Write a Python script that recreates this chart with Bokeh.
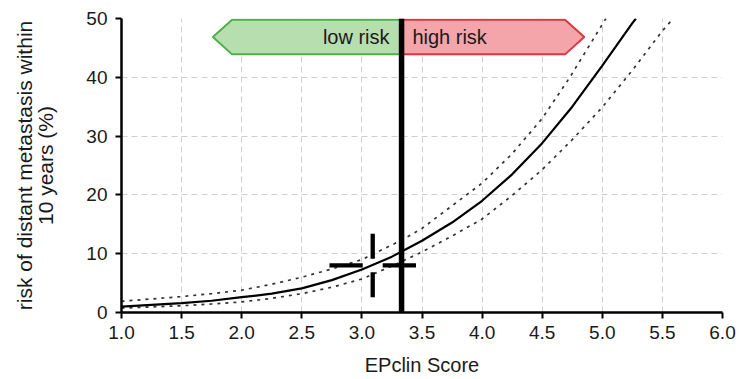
from bokeh.plotting import figure
from bokeh.models import Range1d, FixedTicker
from bokeh.core.properties import value
from bokeh.embed import file_html
from bokeh.resources import INLINE

# ---- data ----
score_mid = [1.0, 1.25, 1.5, 1.75, 2.0, 2.25, 2.5, 2.75, 3.0, 3.25, 3.5, 3.75,
             4.0, 4.25, 4.5, 4.75, 5.0, 5.25, 5.28]
risk_mid = [1.0, 1.3, 1.6, 2.0, 2.6, 3.2, 4.1, 5.5, 7.3, 9.5, 12.2, 15.3,
            19.0, 23.5, 28.8, 35.0, 42.0, 49.2, 50.0]

score_upper = [1.0, 1.25, 1.5, 1.75, 2.0, 2.25, 2.5, 2.75, 3.0, 3.33, 3.5,
               4.0, 4.25, 4.5, 4.73, 5.0, 5.03]
risk_upper = [1.9, 2.3, 2.7, 3.2, 3.8, 4.8, 6.0, 7.4, 9.0, 12.3, 14.3,
              22.0, 27.0, 33.0, 40.0, 49.0, 50.0]

score_lower = [1.0, 1.25, 1.5, 1.75, 2.0, 2.25, 2.5, 2.75, 3.0, 3.25, 3.5,
               3.75, 4.0, 4.25, 4.5, 4.75, 5.0, 5.25, 5.5, 5.59]
risk_lower = [0.75, 0.95, 1.15, 1.45, 1.8, 2.4, 3.2, 4.3, 5.7, 7.9, 10.3,
              13.0, 15.9, 19.9, 24.3, 29.4, 34.9, 41.2, 47.9, 50.0]

cutoff = 3.33
low_risk_band = (1.76, cutoff)
high_risk_band = (cutoff, 4.85)
band_y = (43.9, 49.8)

patient_score = 3.09
patient_risk = 8.0
patient_score_err = 0.36
patient_risk_err = 5.4

x_ticks = [1.0, 1.5, 2.0, 2.5, 3.0, 3.5, 4.0, 4.5, 5.0, 5.5, 6.0]
y_ticks = [0, 10, 20, 30, 40, 50]
x_grid = [1.5, 2.0, 2.5, 3.0, 3.5, 4.0, 4.5, 5.0, 5.5]
y_grid = [10, 20, 30, 40]

FONT = "Liberation Sans"
TXT = "#1a1a1a"

p = figure(width=747, height=379, output_backend="svg", toolbar_location=None,
           x_range=Range1d(1, 6), y_range=Range1d(0, 50),
           min_border_left=121, min_border_right=25, min_border_top=18,
           min_border_bottom=67)
p.outline_line_color = None
p.background_fill_color = "white"
p.border_fill_color = "white"

# grid
p.xgrid.ticker = FixedTicker(ticks=x_grid)
p.ygrid.ticker = FixedTicker(ticks=y_grid)
for g in (p.xgrid, p.ygrid):
    g.grid_line_color = "#cfcfcf"
    g.grid_line_dash = "6 4"
    g.grid_line_width = 1

# axes
p.xaxis.ticker = FixedTicker(ticks=x_ticks)
p.yaxis.ticker = FixedTicker(ticks=y_ticks)
p.xaxis.major_label_overrides = {t: f"{t:.1f}" for t in x_ticks}
for ax in (p.xaxis, p.yaxis):
    ax.axis_line_width = 2.5
    ax.axis_line_color = "black"
    ax.major_tick_line_width = 2
    ax.major_tick_line_color = "black"
    ax.major_tick_out = 6
    ax.major_tick_in = 0
    ax.minor_tick_line_color = None
    ax.major_label_text_font = FONT
    ax.major_label_text_font_size = "19px"
    ax.major_label_text_color = TXT
    ax.axis_label_text_font = FONT
    ax.axis_label_text_font_style = "normal"
    ax.axis_label_text_color = TXT
p.xaxis.major_label_standoff = 7
p.yaxis.major_label_standoff = 8
p.xaxis.axis_label = "EPclin Score"
p.xaxis.axis_label_text_font_size = "20px"
p.xaxis.axis_label_standoff = 12
p.yaxis.axis_label = "risk of distant metastasis within\n10 years (%)"
p.yaxis.axis_label_text_font_size = "21px"
p.yaxis.axis_label_text_line_height = 0.95
p.yaxis.axis_label_standoff = 26

# risk bands (arrows)
tip = 0.16
y0, y1 = band_y
ym = (y0 + y1) / 2
gx = [low_risk_band[0], low_risk_band[0] + tip, low_risk_band[1], low_risk_band[1],
      low_risk_band[0] + tip]
gy = [ym, y1, y1, y0, y0]
rx = [high_risk_band[0], high_risk_band[1] - tip, high_risk_band[1],
      high_risk_band[1] - tip, high_risk_band[0]]
ry = [y1, y1, ym, y0, y0]
p.patch(gx, gy, fill_color="#b6deae", line_color="#4db04a", line_width=2)
p.patch(rx, ry, fill_color="#f4a5aa", line_color="#de3641", line_width=2)
p.text(x=[cutoff - 0.10], y=[ym], text=["low risk"], text_align="right",
       text_baseline="middle", text_font=value(FONT), text_font_size="20px",
       text_color=TXT)
p.text(x=[cutoff + 0.09], y=[ym], text=["high risk"], text_align="left",
       text_baseline="middle", text_font=value(FONT), text_font_size="20px",
       text_color=TXT)

# curves
p.line(score_upper, risk_upper, line_color="#333333", line_width=1.7, line_dash="3 5")
p.line(score_lower, risk_lower, line_color="#333333", line_width=1.7, line_dash="3 5")
p.line(score_mid, risk_mid, line_color="black", line_width=2.2)

# cutoff line
p.line([cutoff, cutoff], [0, 50], line_color="black", line_width=5.5)

# patient crosshair
gap_x = 0.083
gap_y = 1.14
p.segment(x0=[patient_score - patient_score_err, patient_score + gap_x,
              patient_score, patient_score],
          y0=[patient_risk, patient_risk, patient_risk + gap_y, patient_risk - gap_y],
          x1=[patient_score - gap_x, patient_score + patient_score_err,
              patient_score, patient_score],
          y1=[patient_risk, patient_risk, patient_risk + patient_risk_err,
              patient_risk - patient_risk_err],
          line_color="black", line_width=4.3)

open("out.html", "w").write(file_html(p, INLINE))
